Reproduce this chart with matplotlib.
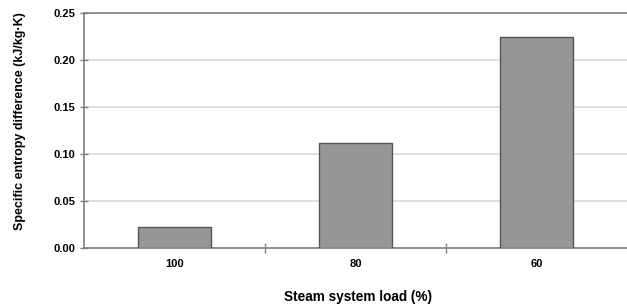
import matplotlib
matplotlib.use("Agg")
import matplotlib.pyplot as plt
import numpy as np

categories = ["100", "80", "60"]
values = [0.022, 0.112, 0.224]
yticks = [0.00, 0.05, 0.10, 0.15, 0.20, 0.25]

plt.rcParams['font.family'] = ['Liberation Sans', 'DejaVu Sans']
plt.rcParams['font.weight'] = 'bold'

fig = plt.figure(figsize=(6.27, 3.06), dpi=100)
ax = fig.add_axes([84/627, 1-248/306, (627-84)/627, (248-13)/306])

x = np.arange(len(categories))
ax.bar(x, values, width=0.4, color="#969696", edgecolor="#555555", linewidth=1.0, zorder=3)

ax.set_xlim(-0.5, len(categories) - 0.5)
ax.set_ylim(0, 0.25)
ax.set_yticks(yticks)
ax.set_yticklabels([f"{v:.2f}" for v in yticks], fontsize=8, fontweight='bold')
ax.yaxis.grid(True, color="#d9d9d9", linewidth=1.2, zorder=0)
ax.set_axisbelow(True)

ax.set_xticks(x)
ax.set_xticklabels(categories, fontsize=8, fontweight='bold')
ax.tick_params(axis='x', length=0, pad=8)
ax.set_xticks(np.arange(len(categories) - 1) + 0.5, minor=True)
ax.tick_params(axis='x', which='minor', direction='inout', length=7, width=1, color="#808080")
ax.tick_params(axis='y', direction='inout', length=6, width=1, color="#808080", pad=3)

ax.spines['right'].set_visible(False)
for s in ['top', 'left', 'bottom']:
    ax.spines[s].set_color("#808080")
    ax.spines[s].set_linewidth(1.2)

fig.text(358/627, 1-297/306, "Steam system load (%)", fontsize=9.8, fontweight='bold',
         ha='center', va='center')
fig.text(20/627, 1-121/306, "Specific entropy difference (kJ/kg·K)", fontsize=9,
         fontweight='bold', ha='center', va='center', rotation=90)

fig.savefig("out.png", dpi=100)
